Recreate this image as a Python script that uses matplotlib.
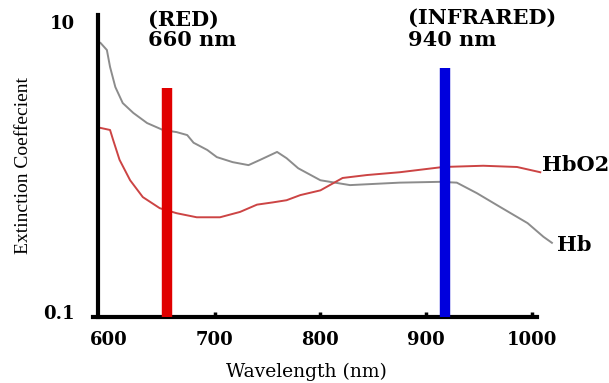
"""
Absorption spectra of Hb and HbO2 with the two pulse-oximeter LED wavelengths.
"""

import matplotlib
matplotlib.use('Agg')
import matplotlib.pyplot as plt
from matplotlib.ticker import NullLocator

# --- DATA ---
hb_nm = [592, 598, 601, 606, 613, 623, 636, 651, 664, 674, 680, 693, 702,
         717, 732, 743, 759, 768, 779, 800, 828, 875, 913, 929, 948, 970,
         996, 1011, 1019]
hb_coef = [7.17, 6.41, 4.90, 3.56, 2.76, 2.36, 2.01, 1.80, 1.74, 1.66, 1.47,
           1.31, 1.17, 1.08, 1.03, 1.12, 1.27, 1.15, 0.98, 0.81, 0.75, 0.78,
           0.79, 0.78, 0.66, 0.53, 0.41, 0.33, 0.30]

hbo2_nm = [592, 601, 604, 610, 620, 632, 648, 664, 683, 705, 724, 740, 755,
           768, 781, 800, 821, 844, 875, 916, 954, 986, 1008]
hbo2_coef = [1.86, 1.80, 1.53, 1.12, 0.81, 0.62, 0.52, 0.48, 0.45, 0.45, 0.49,
             0.55, 0.57, 0.59, 0.64, 0.69, 0.84, 0.88, 0.92, 1.00, 1.02, 1.00,
             0.92]

led_nm = [655, 918]
led_top = [3.5, 4.8]
led_colors = ['#e00000', '#0000dd']
led_names = ['(RED)', '(INFRARED)']
led_labels = ['660 nm', '940 nm']

x_ticks = [600, 700, 800, 900, 1000]
y_ticks = [0.1, 10]
y_tick_labels = ['0.1', '10']

# --- CONFIGURATION ---
plt.rcParams['font.family'] = 'DejaVu Serif'
plt.rcParams['font.weight'] = 'bold'

AXIS_BOTTOM = 0.0924   # where the drawn x axis sits
AXIS_LEFT = 589.6      # where the drawn y axis sits


def generate_plot():
    fig = plt.figure(figsize=(6.09, 3.83), dpi=100)
    ax = fig.add_axes([0, 0, 1, 1])
    ax.set_yscale('log')
    ax.set_xlim(496.9, 1073.0)
    ax.set_ylim(0.03238, 14.18)
    ax.patch.set_visible(False)

    # axes drawn as two thick black lines
    for side in ['top', 'right']:
        ax.spines[side].set_visible(False)
    ax.spines['left'].set_position(('data', AXIS_LEFT))
    ax.spines['left'].set_bounds(AXIS_BOTTOM, 11.2)
    ax.spines['bottom'].set_position(('data', AXIS_BOTTOM))
    ax.spines['bottom'].set_bounds(585, 1005)
    for side in ['left', 'bottom']:
        ax.spines[side].set_linewidth(3)

    # curves
    ax.plot(hb_nm, hb_coef, color='#8c8c8c', lw=1.4)
    ax.plot(hbo2_nm, hbo2_coef, color='#cc4444', lw=1.4)

    # LED wavelength bars
    ax.vlines(led_nm, AXIS_BOTTOM, led_top, colors=led_colors, lw=7.5,
              capstyle='butt', zorder=3)

    # ticks
    ax.set_xticks(x_ticks)
    ax.xaxis.get_major_ticks()[0].tick1line.set_visible(False)
    ax.set_yticks(y_ticks, labels=y_tick_labels)
    ax.yaxis.set_minor_locator(NullLocator())
    ax.tick_params(axis='x', direction='in', length=3.5, width=2.5, pad=10,
                   labelsize=13)
    ax.tick_params(axis='y', length=0, pad=17, labelsize=13)

    # labels
    ax.set_xlabel('Wavelength (nm)', fontsize=13.5, va='center')
    ax.xaxis.set_label_coords(0.504, 0.0287)
    ax.set_ylabel('Extinction Coeffecient', fontsize=14, va='center',
                  family='Liberation Serif', weight='normal')
    ax.yaxis.set_label_coords(0.038, 0.569)

    # annotations
    name_y = [10.3, 10.65]
    text_x = [636.9, 882.4]
    for i in range(len(led_nm)):
        ax.text(text_x[i], name_y[i], led_names[i], fontsize=15,
                ha='left', va='center')
        ax.text(text_x[i], 7.51, led_labels[i], fontsize=15,
                ha='left', va='center')
    ax.text(1009.6, 1.03, 'HbO2', fontsize=15, ha='left', va='center')
    ax.text(1023.8, 0.29, 'Hb', fontsize=15, ha='left', va='center')

    fig.savefig('out.png', dpi=100)


# --- MAIN EXECUTION ---
if __name__ == "__main__":
    generate_plot()
